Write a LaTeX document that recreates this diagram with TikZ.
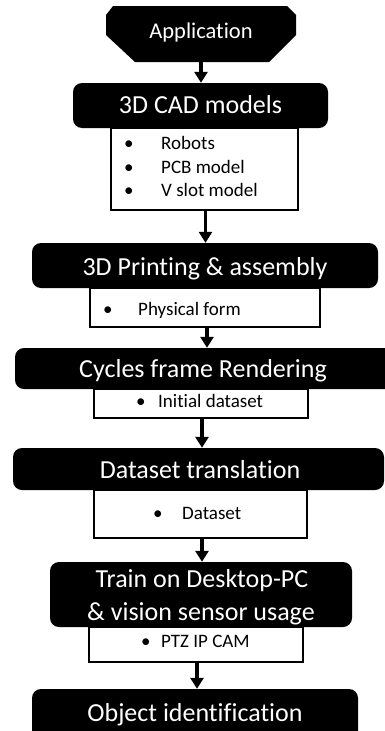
\documentclass[tikz,border=0pt]{standalone}
\usepackage{fontspec}
\setmainfont[Ligatures={NoCommon}]{Carlito}
\usetikzlibrary{arrows.meta}
\begin{document}
\begin{tikzpicture}[x=1pt,y=-1pt,
  titlebox/.style={fill=black, draw=none, rounded corners=9pt, inner sep=0pt},
  subbox/.style={draw=black, line width=1.3pt, fill=white, inner sep=0pt},
  ttext/.style={text=white, font=\fontsize{26}{31}\selectfont, anchor=base, inner sep=0pt},
  itext/.style={font=\fontsize{19}{23}\selectfont, anchor=base west, inner sep=0pt},
  flow/.style={line width=3.3pt, -{Triangle[width=13pt,length=11pt]}}
]
\clip (0,0) rectangle (385,731);
\fill[white] (0,0) rectangle (385,731);

% Application
\node[minimum width=190pt, minimum height=56pt, inner sep=0pt] (app) at (201,34) {};
\fill[black] (113,6) -- (287,6) -- (296,15) -- (296,35) -- (269,62) -- (135,62) -- (106,35) -- (106,15) -- cycle;
\node[ttext, font=\fontsize{22.5}{27}\selectfont] (appt) at (201,38) {Application};

% 3D CAD models
\node[subbox, minimum width=187pt, minimum height=82pt] (cadsub) at (204.5,169) {};
\node[titlebox, minimum width=255pt, minimum height=45pt] (cad) at (200.5,105.5) {};
\node[ttext] (cadt) at (200.5,113) {3D CAD models};
\node[itext] (b1) at (124,149) {•};
\node[itext] (i1) at (161,149) {Robots};
\node[itext] (b2) at (124,173) {•};
\node[itext] (i2) at (161,173) {PCB model};
\node[itext] (b3) at (124,196) {•};
\node[itext] (i3) at (161,196) {V slot model};

% 3D Printing
\node[subbox, minimum width=230pt, minimum height=39pt] (printsub) at (205,307.5) {};
\node[titlebox, minimum width=346pt, minimum height=45pt] (print) at (205,265.5) {};
\node[ttext] (printt) at (205,275) {3D Printing \& assembly};
\node[itext] (b4) at (103,315) {•};
\node[itext] (i4) at (138,315) {Physical form};

% Cycles
\node[subbox, minimum width=214pt, minimum height=29pt] (cycsub) at (201,403.5) {};
\node[titlebox, minimum width=380pt, minimum height=41pt] (cyc) at (205,368.5) {};
\node[ttext] (cyct) at (203,377) {Cycles frame Rendering};
\node[itext] (b5) at (136,407) {•};
\node[itext] (i5) at (158,407) {Initial dataset};

% Dataset translation
\node[subbox, minimum width=213pt, minimum height=48pt] (dssub) at (200.5,514) {};
\node[titlebox, minimum width=371pt, minimum height=42pt] (ds) at (198.5,469) {};
\node[ttext] (dst) at (200,478) {Dataset translation};
\node[itext] (b6) at (153,519) {•};
\node[itext] (i6) at (182,519) {Dataset};

% Train
\node[subbox, minimum width=214pt, minimum height=35pt] (trsub) at (196,644.5) {};
\node[titlebox, minimum width=302pt, minimum height=65pt] (tr) at (201,594.5) {};
\node[ttext] (trt1) at (202,587) {Train on Desktop-PC};
\node[ttext] (trt2) at (201,620) {\& vision sensor usage};
\node[itext] (b7) at (141,647) {•};
\node[itext] (i7) at (161,647) {PTZ IP CAM};

% Object identification
\node[titlebox, minimum width=326pt, minimum height=56pt] (obj) at (195,717) {};
\node[ttext] (objt) at (195,721) {Object identification};

% connectors
\draw[flow] (app.south) -- (app.south |- cad.north);
\draw[flow] ([xshift=1pt]cadsub.south) -- ([xshift=1pt]cadsub.south |- print.north);
\draw[flow] ([xshift=2pt]printsub.south) -- ([xshift=2pt]printsub.south |- cyc.north);
\draw[flow] ([xshift=1pt]cycsub.south) -- ([xshift=1pt]cycsub.south |- ds.north);
\draw[flow] ([xshift=1.5pt]dssub.south) -- ([xshift=1.5pt]dssub.south |- tr.north);
\draw[flow] ([xshift=1pt]trsub.south) -- ([xshift=1pt]trsub.south |- obj.north);
\end{tikzpicture}
\end{document}
